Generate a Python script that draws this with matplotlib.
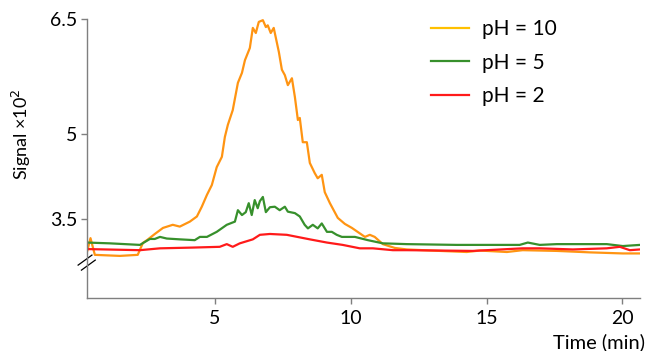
import numpy as np
import matplotlib
matplotlib.use("Agg")
import matplotlib.pyplot as plt
from matplotlib.lines import Line2D

plt.rcParams['font.family'] = ['Lato', 'DejaVu Sans']

# time (min) and signal (x10^2)
t_ph10 = [0.28, 0.41, 0.57, 1.49, 2.15, 2.34, 2.49, 2.78, 3.08, 3.44, 3.70, 4.07,
          4.33, 4.51, 4.70, 4.88, 5.06, 5.25, 5.36, 5.47, 5.65, 5.84, 5.99, 6.10,
          6.28, 6.39, 6.50, 6.61, 6.76, 6.87, 6.94, 7.05, 7.16, 7.35, 7.46, 7.57,
          7.68, 7.83, 7.94, 8.05, 8.12, 8.23, 8.38, 8.49, 8.67, 8.78, 8.93, 9.04,
          9.23, 9.52, 9.78, 10.04, 10.52, 10.70, 10.88, 11.18, 11.62, 12.06, 13.28,
          14.27, 14.75, 15.75, 16.33, 17.59, 18.80, 20.02, 20.65]
s_ph10 = [2.71, 3.07, 2.63, 2.60, 2.63, 2.95, 3.02, 3.17, 3.31, 3.38, 3.34, 3.45,
          3.56, 3.76, 3.99, 4.17, 4.48, 4.65, 4.96, 5.14, 5.35, 5.72, 5.85, 6.01,
          6.16, 6.40, 6.34, 6.47, 6.49, 6.41, 6.43, 6.34, 6.40, 6.11, 5.89, 5.82,
          5.69, 5.78, 5.53, 5.21, 5.24, 4.88, 4.88, 4.55, 4.38, 4.29, 4.35, 4.04,
          3.83, 3.53, 3.40, 3.31, 3.10, 3.15, 3.10, 2.92, 2.82, 2.78, 2.74,
          2.71, 2.75, 2.71, 2.76, 2.74, 2.70, 2.67, 2.67]

t_ph5 = [0.28, 1.12, 2.23, 2.60, 2.78, 2.97, 3.22, 3.70, 4.25, 4.44, 4.70, 5.06,
         5.43, 5.73, 5.84, 5.99, 6.13, 6.24, 6.35, 6.46, 6.57, 6.65, 6.76, 6.87,
         7.02, 7.20, 7.38, 7.57, 7.68, 7.94, 8.12, 8.30, 8.42, 8.60, 8.78, 8.93,
         9.12, 9.30, 9.48, 9.67, 10.15, 10.63, 11.18, 12.06, 13.90, 16.22, 16.52,
         16.96, 17.59, 18.69, 19.43, 20.02, 20.65]
s_ph5 = [2.96, 2.94, 2.90, 3.05, 3.05, 3.10, 3.06, 3.04, 3.02, 3.10, 3.10, 3.22,
         3.38, 3.45, 3.69, 3.59, 3.65, 3.83, 3.59, 3.89, 3.73, 3.87, 3.95, 3.65,
         3.75, 3.76, 3.69, 3.76, 3.66, 3.63, 3.56, 3.38, 3.30, 3.38, 3.30, 3.41,
         3.22, 3.22, 3.15, 3.10, 3.10, 3.02, 2.94, 2.92, 2.90, 2.90, 2.96,
         2.90, 2.92, 2.92, 2.92, 2.87, 2.90]

t_ph2 = [0.28, 2.23, 2.97, 4.18, 5.17, 5.43, 5.65, 5.91, 6.39, 6.65, 7.02, 7.64,
         8.49, 9.12, 9.70, 10.33, 10.81, 11.55, 12.06, 14.49, 16.33, 16.96, 18.18,
         19.43, 19.91, 20.28, 20.65]
s_ph2 = [2.79, 2.76, 2.81, 2.83, 2.85, 2.92, 2.85, 2.94, 3.04, 3.15, 3.17, 3.15,
         3.04, 2.96, 2.90, 2.81, 2.81, 2.76, 2.76, 2.74, 2.81, 2.81, 2.78,
         2.81, 2.85, 2.76, 2.78]

labels = ["pH = 10", "pH = 5", "pH = 2"]
x_ticks = [5, 10, 15, 20]
y_ticks = [3.5, 5, 6.5]
y_tick_labels = ["3.5", "5", "6.5"]

line_colors = ["#ff9412", "#37902c", "#ff1a1a"]
legend_colors = ["#ffc000", "#37902c", "#ff1a1a"]


def sq(v):
    v = np.asarray(v, dtype=float)
    return np.sign(v) * v ** 2


def sqrt_inv(v):
    v = np.asarray(v, dtype=float)
    return np.sign(v) * np.sqrt(np.abs(v))


fig = plt.figure(figsize=(6.49, 3.51), dpi=100)
ax = fig.add_axes([0.134, 0.151, 0.852, 0.794])

series = [(t_ph10, s_ph10), (t_ph5, s_ph5), (t_ph2, s_ph2)]
for (t, s), c in zip(series, line_colors):
    ax.plot(t, s, color=c, lw=1.6, solid_joinstyle="round")

# the y axis of the original is spaced by signal squared
ax.set_yscale("function", functions=(sq, sqrt_inv))
ax.set_xlim(0.28, 20.65)
ax.set_ylim(0.667, 6.5)
ax.set_xticks(x_ticks)
ax.set_xticklabels([str(v) for v in x_ticks])
ax.set_yticks(y_ticks)
ax.set_yticklabels(y_tick_labels)
ax.minorticks_off()

spine_color = "#7f7f7f"
for side in ["top", "right"]:
    ax.spines[side].set_visible(False)
for side in ["left", "bottom"]:
    ax.spines[side].set_color(spine_color)
    ax.spines[side].set_linewidth(1.0)
ax.tick_params(axis="both", direction="out", length=4, width=1.0, color=spine_color,
               labelsize=14, pad=3, labelcolor="black")
ax.tick_params(axis="x", pad=5)

ax.set_ylabel("Signal \u00d710$^2$", fontsize=13)
ax.yaxis.set_label_coords(-0.098, 0.588)
ax.set_xlabel("Time (min)", fontsize=14.5, loc="right")
ax.xaxis.set_label_coords(1.01, -0.125)

# axis break marks
for dx, dy in ((0.0, 0.0), (0.006, -0.018)):
    ax.plot([-0.016 + dx, 0.009 + dx], [0.118 + dy, 0.154 + dy], transform=ax.transAxes,
            color="black", lw=0.9, clip_on=False)

handles = [Line2D([], [], color=c, lw=1.6) for c in legend_colors]
ax.legend(handles, labels, loc="upper left", bbox_to_anchor=(0.588, 1.068),
          frameon=False, fontsize=15, handlelength=1.85, handletextpad=0.6,
          labelspacing=0.65)

fig.savefig("out.png", dpi=100)
